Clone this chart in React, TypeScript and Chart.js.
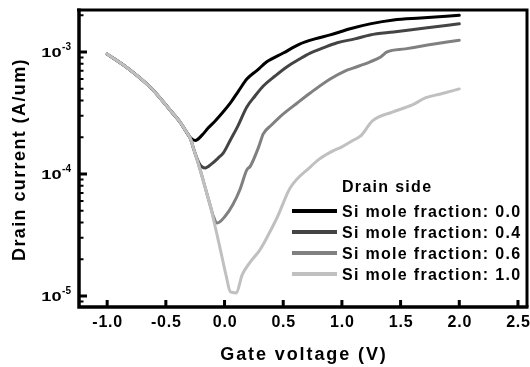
import React, { useEffect, useRef } from 'react';
import { Chart, registerables } from 'chart.js';

Chart.register(...registerables);

// ---- Data ----
const seriesLabels = [
  'Si mole fraction: 0.0',
  'Si mole fraction: 0.4',
  'Si mole fraction: 0.6',
  'Si mole fraction: 1.0',
];
const seriesColors = ['#000000', '#444444', '#808080', '#c0c0c0'];

const gateV00 = [-1.0, -0.82, -0.62, -0.45, -0.38, -0.33, -0.29, -0.25, -0.19, -0.14, -0.08, -0.02, 0.05, 0.12, 0.19, 0.28, 0.36, 0.5, 0.64, 0.77, 0.9, 1.07, 1.24, 1.44, 1.67, 2.0];
const drain00 = [9.6e-4, 7.3e-4, 5.0e-4, 3.22e-4, 2.67e-4, 2.25e-4, 1.98e-4, 1.88e-4, 2.09e-4, 2.38e-4, 2.72e-4, 3.16e-4, 3.82e-4, 4.8e-4, 6.0e-4, 7.1e-4, 8.3e-4, 9.8e-4, 1.16e-3, 1.28e-3, 1.38e-3, 1.55e-3, 1.7e-3, 1.83e-3, 1.9e-3, 2.0e-3];

const gateV04 = [-1.0, -0.82, -0.62, -0.45, -0.38, -0.33, -0.29, -0.26, -0.215, -0.165, -0.11, -0.055, -0.01, 0.05, 0.11, 0.19, 0.26, 0.33, 0.43, 0.53, 0.64, 0.73, 0.84, 0.96, 1.11, 1.24, 1.44, 1.71, 2.0];
const drain04 = [9.6e-4, 7.3e-4, 5.0e-4, 3.22e-4, 2.67e-4, 2.25e-4, 1.94e-4, 1.57e-4, 1.22e-4, 1.12e-4, 1.21e-4, 1.35e-4, 1.49e-4, 1.9e-4, 2.43e-4, 3.54e-4, 4.36e-4, 5.26e-4, 6.35e-4, 7.54e-4, 8.77e-4, 9.8e-4, 1.08e-3, 1.19e-3, 1.28e-3, 1.38e-3, 1.46e-3, 1.57e-3, 1.7e-3];

const gateV06 = [-1.0, -0.82, -0.62, -0.45, -0.38, -0.33, -0.29, -0.26, -0.225, -0.19, -0.157, -0.123, -0.095, -0.063, 0.005, 0.07, 0.13, 0.19, 0.22, 0.29, 0.33, 0.4, 0.47, 0.62, 0.73, 0.9, 1.03, 1.1, 1.24, 1.33, 1.385, 1.54, 1.73, 2.0];
const drain06 = [9.6e-4, 7.3e-4, 5.0e-4, 3.22e-4, 2.67e-4, 2.25e-4, 1.94e-4, 1.57e-4, 1.23e-4, 9.45e-5, 7.26e-5, 5.57e-5, 4.5e-5, 3.96e-5, 4.5e-5, 5.6e-5, 7.4e-5, 1.08e-4, 1.16e-4, 1.66e-4, 2.13e-4, 2.52e-4, 2.93e-4, 3.82e-4, 4.61e-4, 6.0e-4, 7.0e-4, 7.4e-4, 8.3e-4, 9.1e-4, 1.0e-3, 1.06e-3, 1.14e-3, 1.25e-3];

const gateV10 = [-1.0, -0.82, -0.62, -0.45, -0.38, -0.33, -0.29, -0.26, -0.225, -0.19, -0.157, -0.123, -0.089, -0.054, -0.02, 0.014, 0.05, 0.1, 0.15, 0.22, 0.3, 0.36, 0.45, 0.56, 0.73, 0.81, 0.92, 1.0, 1.1, 1.16, 1.26, 1.43, 1.6, 1.71, 1.84, 2.0];
const drain10 = [9.6e-4, 7.3e-4, 5.0e-4, 3.22e-4, 2.67e-4, 2.25e-4, 1.94e-4, 1.57e-4, 1.23e-4, 9.45e-5, 7.26e-5, 5.57e-5, 4.04e-5, 2.88e-5, 2.05e-5, 1.46e-5, 1.08e-5, 1.06e-5, 1.49e-5, 1.9e-5, 2.38e-5, 3.0e-5, 4.44e-5, 7.7e-5, 1.14e-4, 1.33e-4, 1.54e-4, 1.67e-4, 1.9e-4, 2.05e-4, 2.72e-4, 3.22e-4, 3.68e-4, 4.2e-4, 4.53e-4, 4.98e-4];

const xTickValues = [-1.0, -0.5, 0.0, 0.5, 1.0, 1.5, 2.0, 2.5];
const xTickLabels = ['-1.0', '-0.5', '0.0', '0.5', '1.0', '1.5', '2.0', '2.5'];
const yTickValues = [1e-5, 1e-4, 1e-3];
const yTickExponents = ['-5', '-4', '-3'];

const legendTitle = 'Drain side';
const xTitle = 'Gate voltage (V)';
const yTitle = 'Drain current (A/um)';

const FONT = "'Liberation Sans', Arial, Helvetica, sans-serif";

const decorPlugin = {
  id: 'decor',
  afterDraw(chart: any) {
    const ctx = chart.ctx as any;
    const { left, right, top, bottom } = chart.chartArea;
    const xs = chart.scales.x;
    const ys = chart.scales.y;
    ctx.save();
    ctx.strokeStyle = '#000';
    ctx.fillStyle = '#000';
    ctx.lineCap = 'butt';

    // frame
    ctx.lineWidth = 3;
    ctx.beginPath();
    ctx.moveTo(left - 2, top);
    ctx.lineTo(right + 1.5, top);
    ctx.moveTo(right, top);
    ctx.lineTo(right, bottom);
    ctx.stroke();
    ctx.lineWidth = 3.5;
    ctx.beginPath();
    ctx.moveTo(left, top - 1.5);
    ctx.lineTo(left, bottom + 1.75);
    ctx.moveTo(left - 1.75, bottom);
    ctx.lineTo(right + 1.5, bottom);
    ctx.stroke();

    // x ticks (inward)
    ctx.lineWidth = 3;
    ctx.beginPath();
    xTickValues.forEach((v) => {
      const px = xs.getPixelForValue(v);
      ctx.moveTo(px, bottom);
      ctx.lineTo(px, bottom - 7);
    });
    ctx.stroke();

    // y major ticks
    ctx.beginPath();
    yTickValues.forEach((v) => {
      const py = ys.getPixelForValue(v);
      ctx.moveTo(left, py);
      ctx.lineTo(left + 8, py);
    });
    ctx.stroke();

    // y minor ticks
    ctx.lineWidth = 2;
    ctx.beginPath();
    for (let e = -6; e <= -3; e++) {
      for (let m = 2; m <= 9; m++) {
        const v = m * Math.pow(10, e);
        if (v < ys.min || v > ys.max) continue;
        const py = ys.getPixelForValue(v);
        ctx.moveTo(left, py);
        ctx.lineTo(left + 4.5, py);
      }
    }
    ctx.stroke();

    // x tick labels
    ctx.letterSpacing = '0.8px';
    ctx.font = `bold 16px ${FONT}`;
    ctx.textAlign = 'center';
    ctx.textBaseline = 'alphabetic';
    xTickValues.forEach((v, i) => {
      const px = xs.getPixelForValue(v);
      ctx.fillText(xTickLabels[i], px + 0.5, bottom + 20);
    });

    // y tick labels 10^n
    yTickValues.forEach((v, i) => {
      const py = ys.getPixelForValue(v);
      ctx.letterSpacing = '0px';
      ctx.font = `bold 10px ${FONT}`;
      ctx.textAlign = 'right';
      const supW = ctx.measureText(yTickExponents[i]).width;
      ctx.fillText(yTickExponents[i], left - 8, py - 2);
      ctx.save();
      ctx.translate(left - 8 - supW - 0.5, py + 5);
      ctx.scale(1.35, 1);
      ctx.font = `bold 13.5px ${FONT}`;
      ctx.fillText('10', 0, 0);
      ctx.restore();
    });

    // axis titles
    ctx.font = `bold 18px ${FONT}`;
    ctx.letterSpacing = '1.9px';
    ctx.textAlign = 'center';
    ctx.fillText(xTitle, (left + right) / 2 + 1, 360);
    ctx.save();
    ctx.translate(25, (top + bottom) / 2 + 1);
    ctx.rotate(-Math.PI / 2);
    ctx.letterSpacing = '1.4px';
    ctx.fillText(yTitle, 0, 0);
    ctx.restore();

    // legend
    const lx0 = right - 235;
    const lx1 = right - 190;
    const tx = right - 185;
    ctx.letterSpacing = '1.3px';
    ctx.font = `bold 16px ${FONT}`;
    ctx.textAlign = 'left';
    ctx.fillStyle = '#000';
    ctx.fillText(legendTitle, tx, 192);
    chart.data.datasets.forEach((ds: any, i: number) => {
      const y = 211 + 21 * i;
      ctx.strokeStyle = ds.borderColor;
      ctx.lineWidth = 4;
      ctx.beginPath();
      ctx.moveTo(lx0, y);
      ctx.lineTo(lx1, y);
      ctx.stroke();
      ctx.fillStyle = '#000';
      ctx.fillText(ds.label, tx, y + 6);
    });
    ctx.restore();
  },
};

function mk(v: number[], d: number[]) {
  return v.map((x, i) => ({ x, y: d[i] }));
}

export default function App() {
  const ref = useRef<HTMLCanvasElement | null>(null);
  useEffect(() => {
    if (!ref.current) return;
    const allV = [gateV00, gateV04, gateV06, gateV10];
    const allD = [drain00, drain04, drain06, drain10];
    const chart = new Chart(ref.current, {
      type: 'scatter',
      data: {
        datasets: seriesLabels.map((label, i) => ({
          label,
          data: mk(allV[i], allD[i]),
          borderColor: seriesColors[i],
          backgroundColor: seriesColors[i],
          borderWidth: 3,
          pointRadius: 0,
          showLine: true,
          fill: false,
          cubicInterpolationMode: 'monotone',
          borderJoinStyle: 'round',
          borderCapStyle: 'round',
          order: 3 - i,
        })),
      },
      options: {
        animation: false,
        responsive: false,
        devicePixelRatio: 1,
        layout: { padding: { left: 79, right: 3, top: 10, bottom: 60 } },
        plugins: { legend: { display: false }, tooltip: { enabled: false } },
        scales: {
          x: {
            type: 'linear',
            min: -1.24,
            max: 2.577,
            grid: { display: false, drawTicks: false },
            border: { display: false },
            ticks: { display: false },
            afterFit: (s: any) => { s.height = 0; },
          },
          y: {
            type: 'logarithmic',
            min: 8.125e-6,
            max: 2.208e-3,
            grid: { display: false, drawTicks: false },
            border: { display: false },
            ticks: { display: false },
            afterFit: (s: any) => { s.width = 0; },
          },
        },
      } as any,
      plugins: [decorPlugin],
    });
    return () => chart.destroy();
  }, []);
  return (
    <div style={{ position: 'fixed', left: 0, top: 0, width: 530, height: 367, background: '#fff' }}>
      <canvas ref={ref} width={530} height={367} style={{ display: 'block', width: 530, height: 367 }} />
    </div>
  );
}
